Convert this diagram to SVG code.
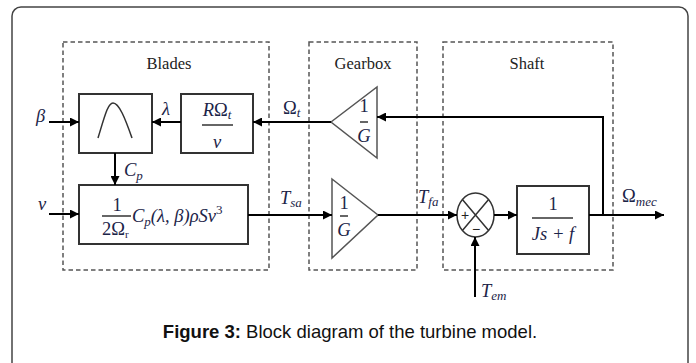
<svg xmlns="http://www.w3.org/2000/svg" width="696" height="363" viewBox="0 0 696 363">
<style>
.frame{fill:#fff;stroke:#444;stroke-width:1.5}
.dash{fill:none;stroke:#555;stroke-width:1.5;stroke-dasharray:4.5,3}
.blk{fill:#fff;stroke:#333;stroke-width:2}
.tri{fill:#fff;stroke:#555;stroke-width:1.5}
.wire{fill:none;stroke:#000;stroke-width:2}
.thin{fill:none;stroke:#333;stroke-width:1.5}
.title{font-family:"Liberation Serif",serif;font-size:16.5px;fill:#222;text-anchor:middle}
.m{font-family:"Liberation Serif","DejaVu Serif",serif;font-size:18.5px;font-style:italic;fill:#1c2448}
.u{font-style:normal}
.mc{text-anchor:middle}
.s{font-size:13px}
.cap{font-family:"Liberation Sans",Arial,sans-serif;font-size:18.5px;fill:#111;text-anchor:middle}
</style>
<defs>
<marker id="ah" viewBox="0 0 10 10" refX="10" refY="5" markerWidth="10" markerHeight="9" markerUnits="userSpaceOnUse" orient="auto"><path d="M0,0 L10,5 L0,10 z" fill="#000"/></marker>
</defs>
<rect class="frame" x="12" y="7" width="676" height="370" rx="9"/>
<g id="blades">
<rect class="dash" x="63" y="42" width="206" height="228"/>
<text class="title" x="169" y="69">Blades</text>
</g>
<g id="gearbox">
<rect class="dash" x="309" y="42" width="108" height="228"/>
<text class="title" x="363" y="69">Gearbox</text>
</g>
<g id="shaft">
<rect class="dash" x="443" y="42" width="170" height="228"/>
<text class="title" x="527" y="69">Shaft</text>
</g>
<g id="cp-curve">
<rect class="blk" x="79" y="94" width="73" height="59"/>
<path class="thin" d="M98,138 C105,115 108,103 113,103 C119,103 125,118 132,138"/>
</g>
<g id="tsr">
<rect class="blk" x="181" y="94" width="72" height="59"/>
<text class="m mc" x="217" y="116">R<tspan class="u">Ω</tspan><tspan class="s" dy="3">t</tspan></text>
<line class="thin" x1="202" y1="125" x2="233" y2="125"/>
<text class="m mc" x="217" y="148">v</text>
</g>
<g id="torque">
<rect class="blk" x="79" y="185" width="169" height="59"/>
<text class="m u mc" x="117" y="211">1</text>
<line class="thin" x1="102" y1="216" x2="131" y2="216"/>
<text class="m u" x="102" y="235">2Ω<tspan font-size="11" dy="3">r</tspan></text>
<text class="m" x="132" y="222" font-size="19.5">C<tspan class="s" dy="4">p</tspan><tspan dy="-4">(λ, β)ρSv</tspan><tspan class="u s" dy="-8">3</tspan></text>
</g>
<g id="gain-top">
<polygon class="tri" points="331,122 377,87 377,158"/>
<text class="m u mc" x="364" y="112" font-size="16">1</text>
<line class="thin" x1="360" y1="122" x2="368" y2="122"/>
<text class="m mc" x="364" y="142" font-size="16">G</text>
</g>
<g id="gain-bottom">
<polygon class="tri" points="332,179 378,215 332,258"/>
<text class="m u mc" x="344" y="209" font-size="16">1</text>
<line class="thin" x1="340" y1="216" x2="348" y2="216"/>
<text class="m mc" x="344" y="236" font-size="16">G</text>
</g>
<g id="sum">
<ellipse class="thin" cx="475.5" cy="215" rx="18.5" ry="22"/>
<path class="thin" d="M462.4,199.4 L488.6,230.6 M462.4,230.6 L488.6,199.4"/>
<text x="465" y="220" font-family="Liberation Sans,sans-serif" font-size="14" fill="#222" text-anchor="middle">+</text>
<text x="476" y="234" font-family="Liberation Sans,sans-serif" font-size="14" fill="#222" text-anchor="middle">−</text>
</g>
<g id="inertia">
<rect class="blk" x="517" y="186" width="72" height="68"/>
<text class="m u mc" x="553" y="210">1</text>
<line class="thin" x1="532" y1="218" x2="573" y2="218"/>
<text class="m mc" x="553" y="240">Js + f</text>
</g>
<g id="connectors">
<path class="wire" d="M49,122 H79" marker-end="url(#ah)"/>
<path class="wire" d="M181,122 H152" marker-end="url(#ah)"/>
<path class="wire" d="M331,122 H253" marker-end="url(#ah)"/>
<path class="wire" d="M603,215 V117 H377" marker-end="url(#ah)"/>
<path class="wire" d="M115,153 V185" marker-end="url(#ah)"/>
<path class="wire" d="M49,214 H79" marker-end="url(#ah)"/>
<path class="wire" d="M248,215 H332" marker-end="url(#ah)"/>
<path class="wire" d="M378,215 H457" marker-end="url(#ah)"/>
<path class="wire" d="M494,215 H517" marker-end="url(#ah)"/>
<path class="wire" d="M589,215 H664" marker-end="url(#ah)"/>
<path class="wire" d="M475,297 V237" marker-end="url(#ah)"/>
</g>
<g id="labels">
<text class="m" x="36" y="122">β</text>
<text class="m" x="162" y="115">λ</text>
<text class="m" x="283" y="114"><tspan class="u">Ω</tspan><tspan class="s" dy="3">t</tspan></text>
<text class="m" x="124" y="176">C<tspan class="s" dy="4">p</tspan></text>
<text class="m" x="38" y="210">v</text>
<text class="m" x="280" y="204">T<tspan class="s" dy="3">sa</tspan></text>
<text class="m" x="418" y="203">T<tspan class="s" dy="3">fa</tspan></text>
<text class="m" x="622" y="202"><tspan class="u">Ω</tspan><tspan class="s" dy="4">mec</tspan></text>
<text class="m" x="481" y="297">T<tspan class="s" dy="3">em</tspan></text>
</g>
<text class="cap" x="350" y="338"><tspan font-weight="bold">Figure 3:</tspan> Block diagram of the turbine model.</text>
</svg>
